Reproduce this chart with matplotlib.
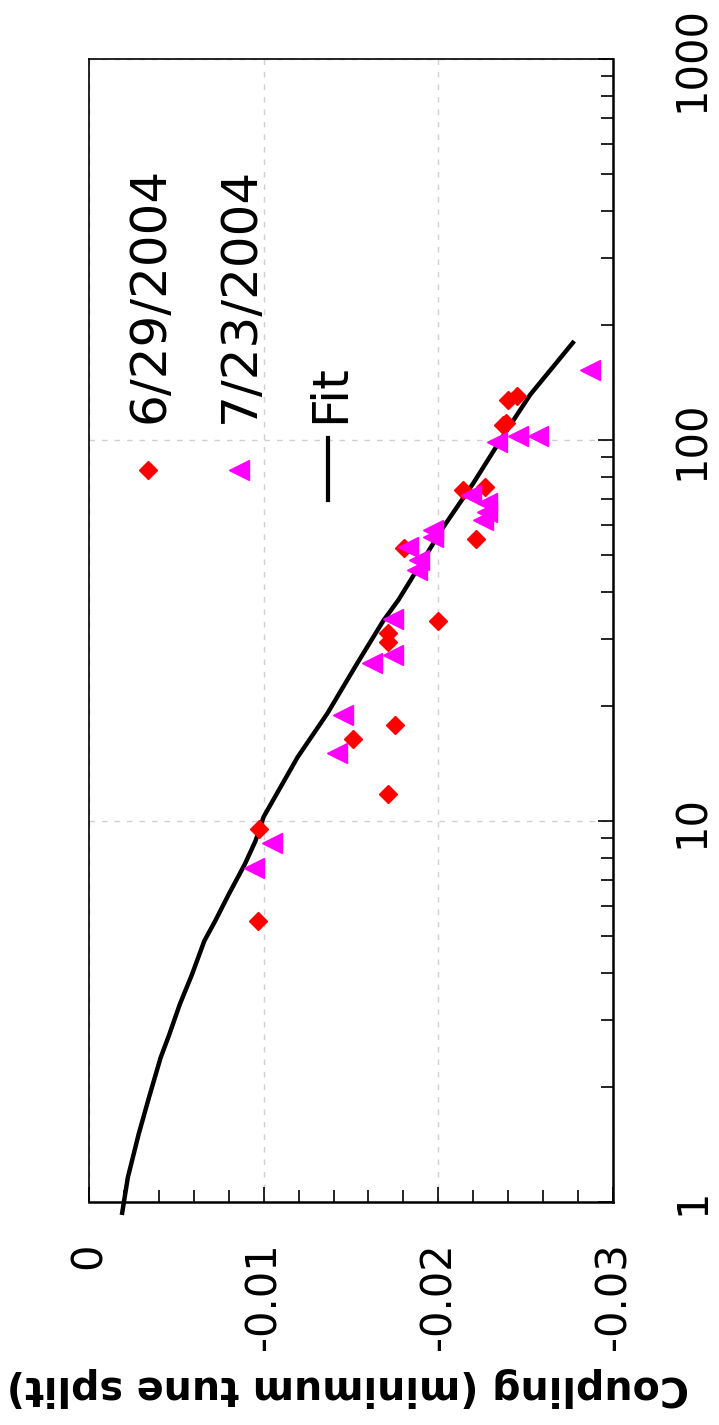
import matplotlib.pyplot as plt
from matplotlib.ticker import MultipleLocator, LogLocator, NullFormatter

# chart is drawn turned on its side: coupling runs left->right, intensity bottom->top
coupling_ticks = [0, -0.01, -0.02, -0.03]
coupling_labels = ['0', '-0.01', '-0.02', '-0.03']
intensity_ticks = [1, 10, 100, 1000]
intensity_labels = ['1', '10', '100', '1000']

# 6/29/2004 (red diamonds)
run1_intensity = [130.5, 127.4, 110.8, 109.5, 73.9, 75.3, 55.0, 52.1,
                  33.5, 31.1, 29.5, 17.9, 16.4, 11.8, 9.53, 5.46]
run1_coupling = [-0.02451, -0.0240, -0.02389, -0.02371, -0.02143, -0.02269, -0.02217, -0.01806,
                 -0.0200, -0.01714, -0.01709, -0.01754, -0.01509, -0.01709, -0.00971, -0.00966]

# 7/23/2004 (magenta triangles)
run2_intensity = [152.7, 98.8, 102.4, 102.4, 71.7, 68.3, 64.7, 61.7, 58.0, 55.6,
                  52.4, 48.4, 45.6, 33.9, 27.3, 26.0, 19.0, 15.1, 8.76, 7.53]
run2_coupling = [-0.02869, -0.02337, -0.02457, -0.02571, -0.02189, -0.0228, -0.0228, -0.02257, -0.01971, -0.01971,
                 -0.01829, -0.01891, -0.0188, -0.01743, -0.01743, -0.01623, -0.01457, -0.01417, -0.01046, -0.00943]

# fit curve
fit_intensity = [0.937, 1.158, 1.505, 1.878, 2.392, 2.755, 3.304, 3.959, 4.842, 5.46, 6.42, 7.70,
                 8.86, 10.26, 14.7, 19.2, 26.0, 33.6, 38.0, 59.1, 77.0, 99.7, 131.5, 180]
fit_coupling = [-0.00190, -0.00222, -0.00284, -0.00343, -0.0041, -0.00460, -0.00520, -0.0059,
                -0.00660, -0.00722, -0.0080, -0.00892, -0.00953, -0.0100, -0.01194, -0.01366,
                -0.01537, -0.01686, -0.01771, -0.02029, -0.0220, -0.02354, -0.02526, -0.0277]

plt.rcParams['font.family'] = ['DejaVu Sans']

fig = plt.figure(figsize=(7.19, 14.25), dpi=100)
ax = fig.add_axes([89 / 719, 223 / 1425, 524 / 719, 1143 / 1425])

ax.plot(fit_coupling, fit_intensity, color='black', lw=3.2, clip_on=False, zorder=3)
ax.plot(run1_coupling, run1_intensity, 'D', color='#ff0000', ms=9.5, zorder=4)
ax.plot(run2_coupling, run2_intensity, '<', color='#ff00ff', ms=15, zorder=5)

ax.set_yscale('log')
ax.set_xlim(0, -0.03)
ax.set_ylim(1, 1000)

ax.set_xticks(coupling_ticks)
ax.set_xticklabels(coupling_labels)
ax.xaxis.set_minor_locator(MultipleLocator(0.002))
ax.set_yticks(intensity_ticks)
ax.set_yticklabels(intensity_labels)
ax.yaxis.set_minor_locator(LogLocator(base=10, subs=range(2, 10)))
ax.yaxis.set_minor_formatter(NullFormatter())

ax.yaxis.tick_right()
ax.tick_params(axis='both', which='both', direction='in', width=1.2)
ax.tick_params(axis='both', which='major', length=11)
ax.tick_params(axis='both', which='minor', length=8.5)
ax.tick_params(axis='x', which='major', labelsize=30, labelrotation=90, pad=29)
ax.tick_params(axis='y', which='major', labelsize=30, labelrotation=90, pad=42)
plt.setp(ax.get_yticklabels(), va='center')

ax.grid(True, which='major', color='#d0d0d0', lw=1, linestyle=(0, (4, 5)))

for side in ['left', 'top']:
    ax.spines[side].set_linewidth(1.2)
for side in ['right', 'bottom']:
    ax.spines[side].set_linewidth(1.8)

ax.set_xlabel('Coupling (minimum tune split)', fontsize=28.5, fontweight='bold', rotation=180)
ax.xaxis.set_label_coords(0.494, -0.162)
ax.xaxis.label.set_va('center')

# legend, turned like the rest of the chart
ax.plot([0.1126], [0.6404], 'D', color='#ff0000', ms=9.5, transform=ax.transAxes)
ax.plot([0.2863], [0.6404], '<', color='#ff00ff', ms=15, transform=ax.transAxes)
ax.plot([0.4561, 0.4561], [0.6142, 0.6684], color='black', lw=3, transform=ax.transAxes)
for xpos, txt in [(0.1164, '6/29/2004'), (0.2882, '7/23/2004'), (0.4599, 'Fit')]:
    ax.text(xpos, 0.6815, txt, transform=ax.transAxes, rotation=90,
            ha='center', va='bottom', fontsize=36)

fig.savefig('out.png', dpi=100)
